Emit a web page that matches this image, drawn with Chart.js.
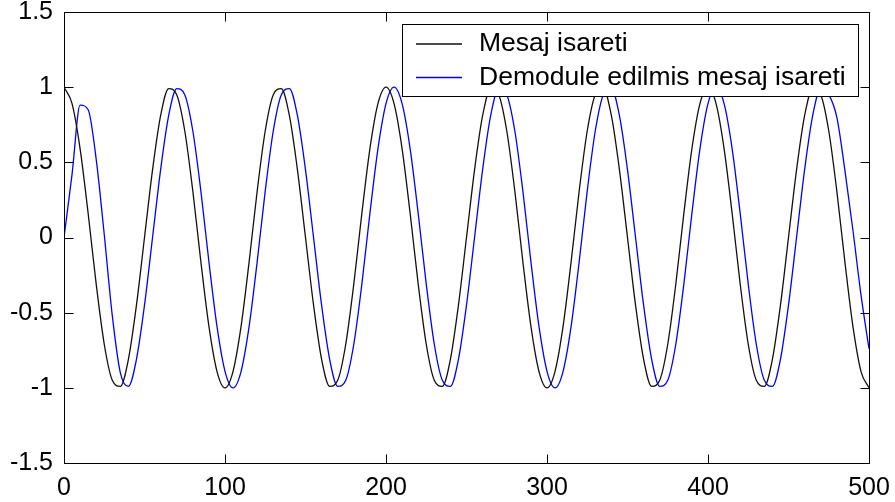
<!DOCTYPE html>
<html>
<head>
<meta charset="utf-8">
<script src="https://cdn.jsdelivr.net/npm/chart.js@4.4.1/dist/chart.umd.min.js"></script>
<style>
  html, body { margin: 0; padding: 0; background: #fff; }
  #plot { display: block; }
</style>
</head>
<body>
<canvas id="plot" width="895" height="502"></canvas>
<script>
// sample positions (x axis)
var xs = [0, 5, 10, 15, 20, 25, 30, 35, 40, 45,
  50, 55, 60, 65, 70, 75, 80, 85, 90, 95,
  100, 105, 110, 115, 120, 125, 130, 135, 140, 145,
  150, 155, 160, 165, 170, 175, 180, 185, 190, 195,
  200, 205, 210, 215, 220, 225, 230, 235, 240, 245,
  250, 255, 260, 265, 270, 275, 280, 285, 290, 295,
  300, 305, 310, 315, 320, 325, 330, 335, 340, 345,
  350, 355, 360, 365, 370, 375, 380, 385, 390, 395,
  400, 405, 410, 415, 420, 425, 430, 435, 440, 445,
  450, 455, 460, 465, 470, 475, 480, 485, 490, 495,
  500];

// Mesaj isareti (black)
var mesaj = [1, 0.89, 0.59, 0.16, -0.31, -0.71, -0.95, -0.99, -0.81, -0.45,
  0, 0.45, 0.81, 0.99, 0.95, 0.71, 0.31, -0.16, -0.59, -0.89,
  -1, -0.89, -0.59, -0.16, 0.31, 0.71, 0.95, 0.99, 0.81, 0.45,
  0, -0.45, -0.81, -0.99, -0.95, -0.71, -0.31, 0.16, 0.59, 0.89,
  1, 0.89, 0.59, 0.16, -0.31, -0.71, -0.95, -0.99, -0.81, -0.45,
  0, 0.45, 0.81, 0.99, 0.95, 0.71, 0.31, -0.16, -0.59, -0.89,
  -1, -0.89, -0.59, -0.16, 0.31, 0.71, 0.95, 0.99, 0.81, 0.45,
  0, -0.45, -0.81, -0.99, -0.95, -0.71, -0.31, 0.16, 0.59, 0.89,
  1, 0.89, 0.59, 0.16, -0.31, -0.71, -0.95, -0.99, -0.81, -0.45,
  0, 0.45, 0.81, 0.99, 0.95, 0.71, 0.31, -0.16, -0.59, -0.89,
  -1];

// Demodule edilmis mesaj isareti (blue)
var demod = [0, 0.42, 0.88, 0.85, 0.52, 0.02, -0.52, -0.9, -0.99, -0.81,
  -0.45, 0, 0.45, 0.81, 0.99, 0.95, 0.71, 0.31, -0.16, -0.59,
  -0.89, -1, -0.89, -0.59, -0.16, 0.31, 0.71, 0.95, 0.99, 0.81,
  0.45, 0, -0.45, -0.81, -0.99, -0.95, -0.71, -0.31, 0.16, 0.59,
  0.89, 1, 0.89, 0.59, 0.16, -0.31, -0.71, -0.95, -0.99, -0.81,
  -0.45, 0, 0.45, 0.81, 0.99, 0.95, 0.71, 0.31, -0.16, -0.59,
  -0.89, -1, -0.89, -0.59, -0.16, 0.31, 0.71, 0.95, 0.99, 0.81,
  0.45, 0, -0.45, -0.81, -0.99, -0.95, -0.71, -0.31, 0.16, 0.59,
  0.89, 1, 0.89, 0.59, 0.16, -0.31, -0.71, -0.95, -0.99, -0.81,
  -0.45, 0, 0.45, 0.81, 0.99, 0.95, 0.8, 0.45, 0.05, -0.38,
  -0.74];

var seriesNames = ["Mesaj isareti", "Demodule edilmis mesaj isareti"];
var xTickLabels = ["0", "100", "200", "300", "400", "500"];
var yTickLabels = ["-1.5", "-1", "-0.5", "0", "0.5", "1", "1.5"];

var FONT = "'Liberation Sans', Arial, sans-serif";

function toPoints(ys) {
  var pts = [];
  for (var i = 0; i < xs.length; i++) pts.push({ x: xs[i], y: ys[i] });
  return pts;
}

// box round the plot area with inward tick marks on all four sides
var boxTicks = {
  id: "boxTicks",
  afterDatasetsDraw: function (chart) {
    var ctx = chart.ctx;
    var a = chart.chartArea;
    var sx = chart.scales.x;
    var sy = chart.scales.y;
    var len = 9;
    ctx.save();
    ctx.strokeStyle = "#000";
    ctx.lineWidth = 1;
    ctx.beginPath();
    var L = Math.round(a.left) + 0.5, R = Math.round(a.right) + 0.5;
    var T = Math.round(a.top) + 0.5, B = Math.round(a.bottom) + 0.5;
    ctx.rect(L, T, R - L, B - T);
    sx.ticks.forEach(function (t) {
      var px = Math.round(sx.getPixelForValue(t.value)) + 0.5;
      ctx.moveTo(px, B); ctx.lineTo(px, B - len);
      ctx.moveTo(px, T); ctx.lineTo(px, T + len);
    });
    sy.ticks.forEach(function (t) {
      var py = Math.round(sy.getPixelForValue(t.value)) + 0.5;
      ctx.moveTo(L, py); ctx.lineTo(L + len, py);
      ctx.moveTo(R, py); ctx.lineTo(R - len, py);
    });
    ctx.stroke();
    ctx.restore();
  }
};

// MATLAB style legend box, top right inside the axes
var boxLegend = {
  id: "boxLegend",
  afterDraw: function (chart) {
    var ctx = chart.ctx;
    var a = chart.chartArea;
    ctx.save();
    ctx.font = "26.5px " + FONT;
    var maxW = 0;
    chart.data.datasets.forEach(function (ds) {
      maxW = Math.max(maxW, ctx.measureText(ds.label).width);
    });
    var w = Math.round(77 + maxW + 12);
    var h = 72;
    var right = Math.round(a.right) - 11;
    var left = right - w;
    var top = Math.round(a.top) + 12;
    ctx.fillStyle = "#fff";
    ctx.fillRect(left, top, w, h);
    ctx.strokeStyle = "#000";
    ctx.lineWidth = 1;
    ctx.strokeRect(left + 0.5, top + 0.5, w, h);
    chart.data.datasets.forEach(function (ds, i) {
      var cy = top + 20 + i * 33.5;
      ctx.strokeStyle = ds.borderColor;
      ctx.lineWidth = 1.3;
      ctx.beginPath();
      ctx.moveTo(left + 14, cy);
      ctx.lineTo(left + 60, cy);
      ctx.stroke();
      ctx.fillStyle = "#000";
      ctx.textBaseline = "middle";
      ctx.fillText(ds.label, left + 77, cy);
    });
    ctx.restore();
  }
};

var ctx = document.getElementById("plot").getContext("2d");
var chart = new Chart(ctx, {
  type: "line",
  data: {
    datasets: [
      {
        label: seriesNames[0],
        data: toPoints(mesaj),
        borderColor: "#111",
        borderWidth: 1.3,
        pointRadius: 0,
        cubicInterpolationMode: "monotone",
        fill: false
      },
      {
        label: seriesNames[1],
        data: toPoints(demod),
        borderColor: "#0000ff",
        borderWidth: 1.3,
        pointRadius: 0,
        cubicInterpolationMode: "monotone",
        fill: false
      }
    ]
  },
  options: {
    responsive: false,
    animation: false,
    layout: { padding: { left: 0, top: 12, right: 26, bottom: 0 } },
    plugins: {
      legend: { display: false },
      tooltip: { enabled: false }
    },
    scales: {
      x: {
        type: "linear",
        min: 0,
        max: 500,
        grid: { display: false, drawTicks: false },
        border: { display: false },
        afterFit: function (scale) {
          scale.height = 39;
          scale.paddingLeft = 0;
          scale.paddingRight = 0;
        },
        ticks: {
          stepSize: 100,
          padding: 10,
          maxRotation: 0,
          color: "#000",
          font: { family: FONT, size: 25 },
          callback: function (v) { return xTickLabels[v / 100]; }
        }
      },
      y: {
        min: -1.5,
        max: 1.5,
        grid: { display: false, drawTicks: false },
        border: { display: false },
        afterFit: function (scale) {
          scale.width = 64;
          scale.paddingTop = 0;
          scale.paddingBottom = 0;
        },
        ticks: {
          stepSize: 0.5,
          padding: 11,
          color: "#000",
          font: { family: FONT, size: 25 },
          callback: function (v) { return yTickLabels[Math.round((v + 1.5) * 2)]; }
        }
      }
    }
  },
  plugins: [boxTicks, boxLegend]
});
</script>
</body>
</html>
